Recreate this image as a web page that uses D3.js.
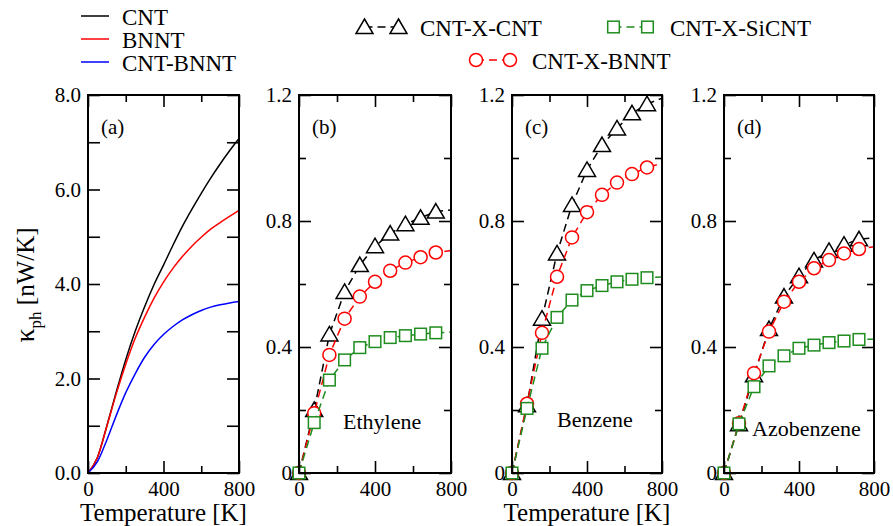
<!DOCTYPE html>
<html>
<head>
<meta charset="utf-8">
<script src="https://cdn.jsdelivr.net/npm/d3@7"></script>
<style>
  body { margin: 0; background: #fff; }
  svg { display: block; }
  text { font-family: "Liberation Serif", "Times New Roman", Times, serif !important; fill: #000; }
</style>
</head>
<body>
<svg id="chart" width="893" height="526"></svg>
<script>
// ---- data ----
// panel (a): pristine tubes, smooth curves
const curveTemps = [0, 50, 100, 150, 200, 250, 300, 350, 400, 450, 500, 550, 600, 650, 700, 750, 800];
const cntCurve   = [0, 0.33, 1.00, 1.72, 2.40, 3.00, 3.52, 3.99, 4.40, 4.82, 5.22, 5.58, 5.92, 6.24, 6.54, 6.82, 7.08];
const bnntCurve  = [0, 0.33, 0.99, 1.68, 2.30, 2.85, 3.30, 3.70, 4.04, 4.33, 4.58, 4.80, 4.99, 5.16, 5.30, 5.43, 5.56];
const hybCurve   = [0, 0.24, 0.70, 1.22, 1.70, 2.10, 2.45, 2.72, 2.93, 3.10, 3.24, 3.35, 3.44, 3.51, 3.56, 3.60, 3.63];
const curveNames = ["CNT", "BNNT", "CNT-BNNT"];

// panels (b)-(d): junctions, symbols every 80 K
const temps = [0, 80, 160, 240, 320, 400, 480, 560, 640, 720, 800];
const ethCNT   = [0, 0.200, 0.440, 0.575, 0.660, 0.720, 0.760, 0.790, 0.810, 0.830, 0.835];
const ethBNNT  = [0, 0.190, 0.375, 0.490, 0.560, 0.607, 0.642, 0.668, 0.685, 0.700, 0.706];
const ethSiCNT = [0, 0.160, 0.295, 0.359, 0.398, 0.417, 0.430, 0.436, 0.441, 0.445, 0.447];
const benCNT   = [0, 0.215, 0.490, 0.697, 0.851, 0.962, 1.041, 1.094, 1.142, 1.171, 1.190];
const benBNNT  = [0, 0.220, 0.445, 0.623, 0.748, 0.828, 0.883, 0.922, 0.949, 0.970, 0.983];
const benSiCNT = [0, 0.205, 0.396, 0.494, 0.549, 0.579, 0.595, 0.607, 0.615, 0.620, 0.622];
const azoCNT   = [0, 0.155, 0.310, 0.457, 0.560, 0.625, 0.675, 0.705, 0.725, 0.742, 0.747];
const azoBNNT  = [0, 0.158, 0.317, 0.449, 0.544, 0.607, 0.650, 0.676, 0.697, 0.711, 0.718];
const azoSiCNT = [0, 0.156, 0.274, 0.340, 0.372, 0.396, 0.406, 0.414, 0.419, 0.424, 0.425];
const junctionNames = ["CNT-X-CNT", "CNT-X-BNNT", "CNT-X-SiCNT"];
const molecules = ["Ethylene", "Benzene", "Azobenzene"];

const xMajor = [0, 400, 800], xMinor = [200, 600];
const yMajorA = [0, 2, 4, 6, 8], yMinorA = [1, 3, 5, 7];
const yMajorB = [0, 0.4, 0.8, 1.2], yMinorB = [0.2, 0.6, 1.0];

// ---- layout / style ----
const svg = d3.select("#chart");
const yTop = 95, yBottom = 473;
const colors = ["#000000", "#ff0000", "#0000ff"];
const jColors = ["#000000", "#ff0000", "#1e8c1e"];
const shapes = ["triangle", "circle", "square"];
const fmtB = d => d === 0 ? "0" : d3.format(".1f")(d);

const panels = [
  {tag: "(a)", x0: 88,  x1: 239, ymax: 8,   yMaj: yMajorA, yMin: yMinorA, fmt: d3.format(".1f")},
  {tag: "(b)", x0: 299, x1: 451, ymax: 1.2, yMaj: yMajorB, yMin: yMinorB, fmt: fmtB,
   sets: [ethCNT, ethBNNT, ethSiCNT], mol: molecules[0], molX: 44, molY: 429},
  {tag: "(c)", x0: 512, x1: 662, ymax: 1.2, yMaj: yMajorB, yMin: yMinorB, fmt: fmtB,
   sets: [benCNT, benBNNT, benSiCNT], mol: molecules[1], molX: 45, molY: 427},
  {tag: "(d)", x0: 724, x1: 874, ymax: 1.2, yMaj: yMajorB, yMin: yMinorB, fmt: fmtB,
   sets: [azoCNT, azoBNNT, azoSiCNT], mol: molecules[2], molX: 28, molY: 436}
];

function marker(g, shape, color){
  // open symbols with white fill, like the grace output
  let m;
  if(shape == "triangle"){
    m = g.append("path").attr("d", "M0,-8L8.5,6.5L-8.5,6.5Z");
  } else if(shape == "circle"){
    m = g.append("circle").attr("r", 6.5);
  } else {
    m = g.append("rect").attr("x", -5.8).attr("y", -5.8).attr("width", 11.6).attr("height", 11.6);
  }
  m.attr("fill", "#fff").attr("stroke", color).attr("stroke-width", 1.5);
  return m;
} // marker

panels.forEach(function(p, i){
  let x = d3.scaleLinear().domain([0, 800]).range([p.x0, p.x1]);
  let y = d3.scaleLinear().domain([0, p.ymax]).range([yBottom, yTop]);
  let g = svg.append("g");

  // clip only on the right so the 0 K symbol can hang over the left axis
  let clipId = "clip" + i;
  svg.append("clipPath").attr("id", clipId)
    .append("rect").attr("x", p.x0 - 20).attr("y", yTop - 20)
    .attr("width", p.x1 - p.x0 + 20).attr("height", yBottom - yTop + 40);
  let data = g.append("g").attr("clip-path", "url(#" + clipId + ")");

  if(i == 0){
    [cntCurve, bnntCurve, hybCurve].forEach(function(vals, k){
      let line = d3.line().x((d, j) => x(curveTemps[j])).y(d => y(d)).curve(d3.curveMonotoneX);
      data.append("path").datum(vals)
        .attr("d", line).attr("fill", "none")
        .attr("stroke", colors[k]).attr("stroke-width", 1.5);
    });
  } else {
    p.sets.forEach(function(vals, k){
      let line = d3.line().x((d, j) => x(temps[j])).y(d => y(d));
      data.append("path").datum(vals)
        .attr("d", line).attr("fill", "none")
        .attr("stroke", jColors[k]).attr("stroke-width", 1.5)
        .attr("stroke-dasharray", "8,5");
      // last point (800 K) has no visible symbol
      vals.slice(0, temps.length - 1).forEach(function(v, j){
        let mg = data.append("g").attr("transform", "translate(" + x(temps[j]) + "," + y(v) + ")");
        marker(mg, shapes[k], jColors[k]);
      });
    });
    g.append("text").attr("x", p.x0 + p.molX).attr("y", p.molY)
      .attr("font-size", 22).text(p.mol);
  }

  // ticks: inward on all four sides, major longer than minor
  let tickLen = 12, minorLen = 7;
  let yMinorLen = i == 0 ? 12 : 7;
  g.append("g").attr("transform", "translate(0," + yBottom + ")")
    .call(d3.axisBottom(x).tickValues(xMajor).tickSizeInner(-tickLen).tickSizeOuter(0).tickPadding(8));
  g.append("g").attr("transform", "translate(0," + yBottom + ")")
    .call(d3.axisBottom(x).tickValues(xMinor).tickSizeInner(-minorLen).tickSizeOuter(0).tickFormat(""));
  g.append("g").attr("transform", "translate(0," + yTop + ")")
    .call(d3.axisTop(x).tickValues(xMajor).tickSizeInner(-tickLen).tickSizeOuter(0).tickFormat(""));
  g.append("g").attr("transform", "translate(0," + yTop + ")")
    .call(d3.axisTop(x).tickValues(xMinor).tickSizeInner(-minorLen).tickSizeOuter(0).tickFormat(""));
  g.append("g").attr("transform", "translate(" + p.x0 + ",0)")
    .call(d3.axisLeft(y).tickValues(p.yMaj).tickSizeInner(-tickLen).tickSizeOuter(0).tickPadding(7).tickFormat(p.fmt));
  g.append("g").attr("transform", "translate(" + p.x0 + ",0)")
    .call(d3.axisLeft(y).tickValues(p.yMin).tickSizeInner(-yMinorLen).tickSizeOuter(0).tickFormat(""));
  g.append("g").attr("transform", "translate(" + p.x1 + ",0)")
    .call(d3.axisRight(y).tickValues(p.yMaj).tickSizeInner(-tickLen).tickSizeOuter(0).tickFormat(""));
  g.append("g").attr("transform", "translate(" + p.x1 + ",0)")
    .call(d3.axisRight(y).tickValues(p.yMin).tickSizeInner(-yMinorLen).tickSizeOuter(0).tickFormat(""));

  g.selectAll(".domain").remove();
  g.selectAll(".tick line").attr("stroke", "#000").attr("stroke-width", 1.6);
  g.selectAll(".tick text").attr("font-size", 21);

  // frame
  g.append("rect").attr("x", p.x0).attr("y", yTop)
    .attr("width", p.x1 - p.x0).attr("height", yBottom - yTop)
    .attr("fill", "none").attr("stroke", "#000").attr("stroke-width", 2);

  g.append("text").attr("x", p.x0 + 13).attr("y", 134).attr("font-size", 21).text(p.tag);

  // x titles only under (a) and (c)
  if(i == 0 || i == 2){
    svg.append("text").attr("x", (p.x0 + p.x1) / 2).attr("y", 521)
      .attr("text-anchor", "middle").attr("font-size", 25).text("Temperature [K]");
  }
}); // panels

// y title
let yt = svg.append("text").attr("transform", "translate(34,285) rotate(-90)")
  .attr("text-anchor", "middle").attr("font-size", 25);
yt.append("tspan").attr("font-size", 28).text("κ");
yt.append("tspan").attr("font-size", 17).attr("dy", 7).text("ph");
yt.append("tspan").attr("dy", -7).text(" [nW/K]");

// legend for panel (a)
const legA = [16, 39, 62];
curveNames.forEach(function(name, k){
  svg.append("line").attr("x1", 81).attr("x2", 109).attr("y1", legA[k]).attr("y2", legA[k])
    .attr("stroke", colors[k]).attr("stroke-width", 1.5);
  svg.append("text").attr("x", 122).attr("y", legA[k] + 8.5).attr("font-size", 23).text(name);
});

// legend for junctions
const legB = [
  {x: 364.5, y: 27, tx: 420},
  {x: 476,   y: 60, tx: 532},
  {x: 613.5, y: 27, tx: 670}
];
junctionNames.forEach(function(name, k){
  let L = legB[k];
  svg.append("line").attr("x1", L.x).attr("x2", L.x + 34).attr("y1", L.y).attr("y2", L.y)
    .attr("stroke", jColors[k]).attr("stroke-width", 1.5).attr("stroke-dasharray", "8,5");
  marker(svg.append("g").attr("transform", "translate(" + L.x + "," + L.y + ")"), shapes[k], jColors[k]);
  marker(svg.append("g").attr("transform", "translate(" + (L.x + 34) + "," + L.y + ")"), shapes[k], jColors[k]);
  svg.append("text").attr("x", L.tx).attr("y", L.y + 8.5).attr("font-size", 23).text(name);
});
</script>
</body>
</html>
